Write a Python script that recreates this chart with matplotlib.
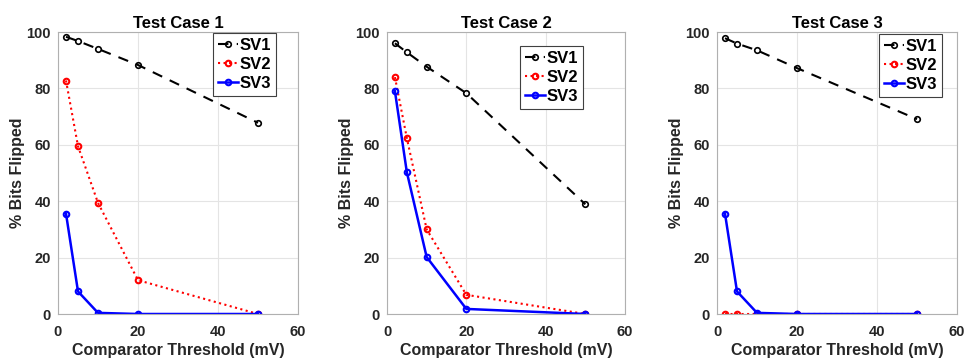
import matplotlib.pyplot as plt

plt.rcParams['font.family'] = ['Liberation Sans', 'DejaVu Sans']
plt.rcParams['font.weight'] = 'bold'

threshold = [2, 5, 10, 20, 50]
titles = ["Test Case 1", "Test Case 2", "Test Case 3"]

sv1 = [[98.3, 96.8, 94.0, 88.3, 67.8],
       [96.0, 92.8, 87.7, 78.3, 38.9],
       [97.8, 95.9, 93.5, 87.2, 69.1]]
sv2 = [[82.8, 59.5, 39.4, 12.0, 0.0],
       [84.0, 62.4, 30.0, 6.8, 0.0],
       [0.0, 0.0, 0.0, 0.0, 0.0]]
sv3 = [[35.6, 8.0, 0.4, 0.0, 0.0],
       [79.0, 50.3, 20.2, 1.8, 0.0],
       [35.6, 8.0, 0.4, 0.0, 0.0]]

# axes boxes in pixels: left, right
boxes = [(58, 298), (387, 625), (717, 957)]
# legend upper-right corner, pixels
legend_corner = [(276, 33), (583, 46), (942, 34)]
W, H = 973, 358
top, bottom = 32, 314

fig = plt.figure(figsize=(W / 100, H / 100), dpi=100)
for i in range(3):
    l, r = boxes[i]
    ax = fig.add_axes([l / W, 1 - bottom / H, (r - l) / W, (bottom - top) / H])
    ax.plot(threshold, sv1[i], 'k--o', lw=1.5, ms=4, mfc='none', mew=1.2, dashes=(5, 4), label='SV1')
    ax.plot(threshold, sv2[i], 'r:o', lw=1.5, ms=4, mfc='none', mew=1.5, label='SV2')
    ax.plot(threshold, sv3[i], 'b-o', lw=1.8, ms=4, mfc='none', mew=1.5, label='SV3')
    ax.set_xlim(0, 60)
    ax.set_ylim(0, 100)
    ax.set_xticks([0, 20, 40, 60])
    ax.set_yticks([0, 20, 40, 60, 80, 100])
    ax.grid(True, color='#e4e4e4', lw=0.8)
    ax.set_axisbelow(True)
    for s in ax.spines.values():
        s.set_color('#b0b0b0')
    ax.tick_params(labelsize=10.5, colors='#262626', length=0)
    ax.tick_params(axis='x', pad=8)
    ax.tick_params(axis='y', pad=5)
    ax.set_title(titles[i], fontsize=12, fontweight='bold', pad=3)
    ax.set_xlabel("Comparator Threshold (mV)", fontsize=11.5, fontweight='bold', color='#262626', labelpad=3)
    ax.set_ylabel("% Bits Flipped", fontsize=11.5, fontweight='bold', color='#262626', labelpad=1)
    cx, cy = legend_corner[i]
    leg = ax.legend(loc='upper right', bbox_to_anchor=(cx / W, 1 - cy / H),
                    bbox_transform=fig.transFigure, fontsize=12,
                    fancybox=False, framealpha=1, edgecolor='#404040',
                    handlelength=1.2, handletextpad=0.1, borderpad=0.3, labelspacing=0.25,
                    borderaxespad=0)
    leg.get_frame().set_linewidth(0.8)

fig.savefig("out.png", dpi=100)
